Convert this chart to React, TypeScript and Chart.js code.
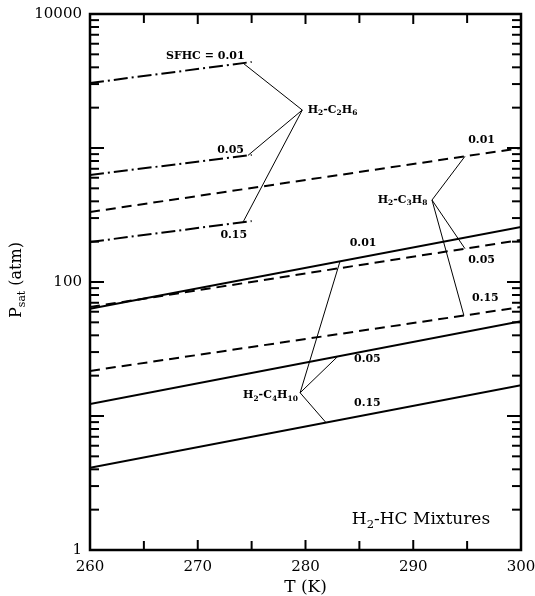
import React, { useEffect, useRef } from "react";
import { Chart, registerables } from "chart.js";
Chart.register(...registerables);

// ---- data ----
const T_FULL = [260, 300];
const T_C2H6 = [260, 275];

const C2H6_001 = [3055, 4385];
const C2H6_005 = [629, 887];
const C2H6_015 = [199, 285];

const C3H8_001 = [333, 1000];
const C3H8_005 = [65, 206];
const C3H8_015 = [21.7, 65];

const C4H10_001 = [63, 257];
const C4H10_005 = [12.3, 51];
const C4H10_015 = [4.1, 17];

const X_LABEL_TICKS = [260, 270, 280, 290, 300];
const X_MINOR_TICKS = [265, 275, 285, 295];
const Y_LABEL_TICKS = [1, 100, 10000];

// annotation texts (data coordinates: T, P)
const LABELS = [
  { text: "SFHC = 0.01", t: 267.05, p: 4860 },
  { text: "0.05", t: 271.8, p: 966 },
  { text: "0.15", t: 272.1, p: 224 },
  { text: "H_{2}-C_{2}H_{6}", t: 280.2, p: 1922 },
  { text: "0.01", t: 295.1, p: 1148 },
  { text: "H_{2}-C_{3}H_{8}", t: 286.7, p: 409 },
  { text: "0.05", t: 295.1, p: 146 },
  { text: "0.15", t: 295.45, p: 76 },
  { text: "0.01", t: 284.1, p: 195 },
  { text: "H_{2}-C_{4}H_{10}", t: 274.2, p: 14.3 },
  { text: "0.05", t: 284.5, p: 26.6 },
  { text: "0.15", t: 284.5, p: 12.5 },
];

// leader lines: from vertex (T,P) to a point on a curve at temperature t
const LEADERS = [
  { from: [279.7, 1920], temps: T_C2H6, vals: C2H6_001, t: 274.2 },
  { from: [279.7, 1920], temps: T_C2H6, vals: C2H6_005, t: 274.66 },
  { from: [279.7, 1920], temps: T_C2H6, vals: C2H6_015, t: 274.2 },
  { from: [291.74, 409], temps: T_FULL, vals: C3H8_001, t: 294.8 },
  { from: [291.74, 409], temps: T_FULL, vals: C3H8_005, t: 294.8 },
  { from: [291.74, 409], temps: T_FULL, vals: C3H8_015, t: 294.7 },
  { from: [279.5, 14.9], temps: T_FULL, vals: C4H10_001, t: 283.2 },
  { from: [279.5, 14.9], temps: T_FULL, vals: C4H10_005, t: 283.0 },
  { from: [279.5, 14.9], temps: T_FULL, vals: C4H10_015, t: 281.9 },
];

const SERIF = "'DejaVu Serif', 'Liberation Serif', serif";

function valueAt(temps: number[], vals: number[], t: number) {
  const f = (t - temps[0]) / (temps[1] - temps[0]);
  return Math.pow(10, Math.log10(vals[0]) + f * (Math.log10(vals[1]) - Math.log10(vals[0])));
}

function parseSegments(text: string) {
  const segs: { s: string; sub: boolean }[] = [];
  const re = /_\{([^}]*)\}/g;
  let last = 0;
  let m: RegExpExecArray | null;
  while ((m = re.exec(text))) {
    if (m.index > last) segs.push({ s: text.slice(last, m.index), sub: false });
    segs.push({ s: m[1], sub: true });
    last = m.index + m[0].length;
  }
  if (last < text.length) segs.push({ s: text.slice(last), sub: false });
  return segs;
}

function drawRich(ctx: CanvasRenderingContext2D, text: string, x: number, y: number, size: number, weight: string, align: "left" | "center") {
  const segs = parseSegments(text);
  const font = (sz: number) => `${weight} ${sz}px ${SERIF}`;
  const subSize = size * 0.68;
  let total = 0;
  for (const sg of segs) {
    ctx.font = font(sg.sub ? subSize : size);
    total += ctx.measureText(sg.s).width;
  }
  let cx = align === "center" ? x - total / 2 : x;
  ctx.textBaseline = "middle";
  ctx.textAlign = "left";
  for (const sg of segs) {
    ctx.font = font(sg.sub ? subSize : size);
    ctx.fillText(sg.s, cx, sg.sub ? y + size * 0.32 : y);
    cx += ctx.measureText(sg.s).width;
  }
}

const decorPlugin = {
  id: "decor",
  afterDatasetsDraw(chart: any) {
    const { ctx, chartArea: a, scales } = chart;
    const xs = scales.x;
    const ys = scales.y;
    ctx.save();
    ctx.strokeStyle = "#000";
    ctx.fillStyle = "#000";

    const seg = (x1: number, y1: number, x2: number, y2: number) => {
      ctx.beginPath();
      ctx.moveTo(x1, y1);
      ctx.lineTo(x2, y2);
      ctx.stroke();
    };

    // inward ticks
    ctx.lineWidth = 2;
    for (const t of [...X_LABEL_TICKS, ...X_MINOR_TICKS]) {
      const x = xs.getPixelForValue(t);
      const len = X_LABEL_TICKS.includes(t) ? 10 : 9;
      seg(x, a.bottom, x, a.bottom - len);
      seg(x, a.top, x, a.top + len);
    }
    for (let k = 0; k < 4; k++) {
      for (let m = 1; m <= 9; m++) {
        const v = m * Math.pow(10, k);
        const y = ys.getPixelForValue(v);
        const len = m === 1 ? 14 : 9;
        seg(a.left, y, a.left + len, y);
        seg(a.right, y, a.right - len, y);
      }
    }

    // frame
    ctx.lineWidth = 2.5;
    ctx.strokeRect(a.left, a.top, a.right - a.left, a.bottom - a.top);

    // leaders
    ctx.lineWidth = 1;
    for (const L of LEADERS) {
      const x1 = xs.getPixelForValue(L.from[0]);
      const y1 = ys.getPixelForValue(L.from[1]);
      const x2 = xs.getPixelForValue(L.t);
      const y2 = ys.getPixelForValue(valueAt(L.temps, L.vals, L.t));
      seg(x1, y1, x2, y2);
    }

    // labels
    for (const lb of LABELS) {
      drawRich(ctx, lb.text, xs.getPixelForValue(lb.t), ys.getPixelForValue(lb.p), 11, "bold", "left");
    }
    drawRich(ctx, "H_{2}-HC Mixtures", xs.getPixelForValue(284.3), ys.getPixelForValue(1.7), 17, "normal", "left");

    // axis titles
    drawRich(ctx, "T (K)", (a.left + a.right) / 2, 588, 17, "normal", "center");
    ctx.save();
    ctx.translate(17, 280);
    ctx.rotate(-Math.PI / 2);
    drawRich(ctx, "P_{sat} (atm)", 0, 0, 16, "normal", "center");
    ctx.restore();

    ctx.restore();
  },
};

function series(temps: number[], vals: number[]) {
  return temps.map((t, i) => ({ x: t, y: vals[i] }));
}

export default function App() {
  const ref = useRef<HTMLCanvasElement>(null);
  useEffect(() => {
    if (!ref.current) return;
    const dashDot = [14, 4, 2, 4];
    const dashed = [10, 6];
    const mk = (label: string, temps: number[], vals: number[], dash: number[]) => ({
      label,
      data: series(temps, vals),
      borderColor: "#000",
      borderWidth: 2,
      borderDash: dash,
      pointRadius: 0,
      fill: false,
      tension: 0,
    });
    const chart = new Chart(ref.current, {
      type: "line",
      data: {
        datasets: [
          mk("H2-C2H6 0.01", T_C2H6, C2H6_001, dashDot),
          mk("H2-C2H6 0.05", T_C2H6, C2H6_005, dashDot),
          mk("H2-C2H6 0.15", T_C2H6, C2H6_015, dashDot),
          mk("H2-C3H8 0.01", T_FULL, C3H8_001, dashed),
          mk("H2-C3H8 0.05", T_FULL, C3H8_005, dashed),
          mk("H2-C3H8 0.15", T_FULL, C3H8_015, dashed),
          mk("H2-C4H10 0.01", T_FULL, C4H10_001, []),
          mk("H2-C4H10 0.05", T_FULL, C4H10_005, []),
          mk("H2-C4H10 0.15", T_FULL, C4H10_015, []),
        ],
      },
      options: {
        animation: false,
        responsive: false,
        devicePixelRatio: 1,
        layout: { padding: { top: 14, right: 14, left: 0, bottom: 0 } },
        plugins: { legend: { display: false }, tooltip: { enabled: false } },
        scales: {
          x: {
            type: "linear",
            min: 260,
            max: 300,
            afterFit: (s: any) => { s.height = 46; s.paddingLeft = 0; s.paddingRight = 0; },
            afterBuildTicks: (s: any) => { s.ticks = X_LABEL_TICKS.map((v) => ({ value: v })); },
            ticks: { color: "#000", font: { family: SERIF, size: 15 }, padding: 8, maxRotation: 0, autoSkip: false },
            grid: { display: false, drawTicks: false },
            border: { display: false },
          },
          y: {
            type: "logarithmic",
            min: 1,
            max: 10000,
            afterFit: (s: any) => { s.width = 90; s.paddingTop = 0; s.paddingBottom = 0; },
            afterBuildTicks: (s: any) => { s.ticks = Y_LABEL_TICKS.map((v) => ({ value: v })); },
            ticks: {
              color: "#000",
              font: { family: SERIF, size: 15 },
              padding: 8,
              autoSkip: false,
              callback: (v: any) => String(v),
            },
            grid: { display: false, drawTicks: false },
            border: { display: false },
          },
        },
      },
      plugins: [decorPlugin],
    } as any);
    return () => chart.destroy();
  }, []);
  return (
    <div style={{ position: "fixed", left: 0, top: 0, width: 535, height: 596, background: "#fff" }}>
      <canvas ref={ref} width={535} height={596} style={{ width: 535, height: 596 }} />
    </div>
  );
}
